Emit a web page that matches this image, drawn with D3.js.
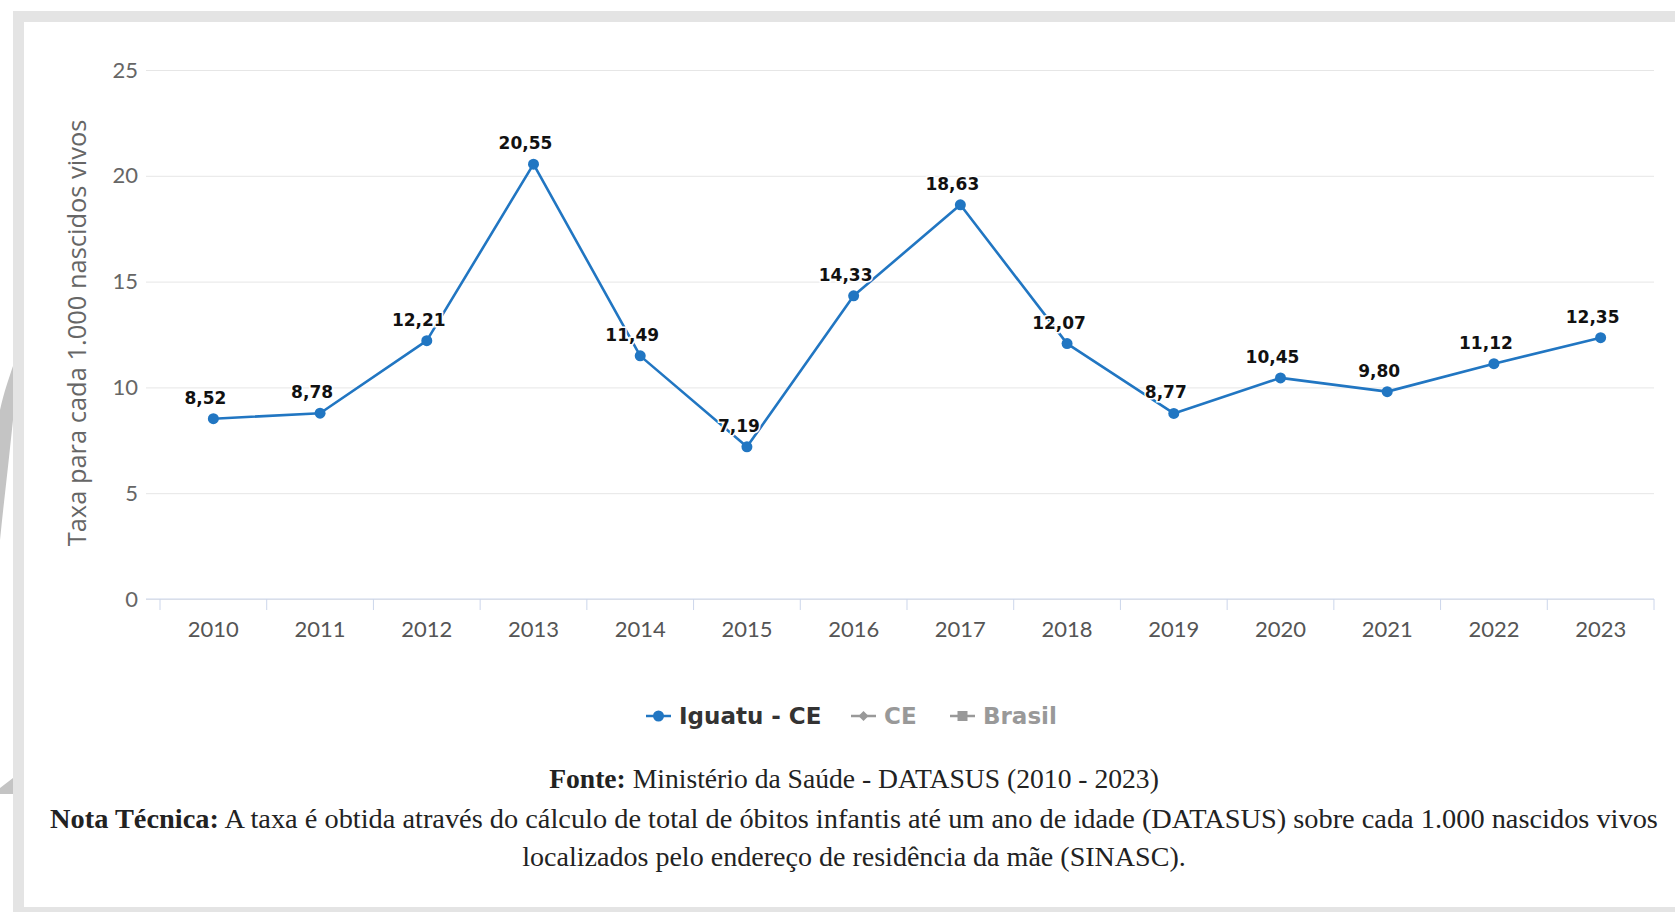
<!DOCTYPE html>
<html>
<head>
<meta charset="utf-8">
<script src="https://cdn.jsdelivr.net/npm/d3@7"></script>
<style>
  html, body { margin: 0; padding: 0; background: #ffffff; }
  svg { display: block; }
</style>
</head>
<body>
<svg id="chart" width="1675" height="912"></svg>
<script>
// ---- data ----
const years = ["2010","2011","2012","2013","2014","2015","2016","2017","2018","2019","2020","2021","2022","2023"];
const iguatuValues = [8.52, 8.78, 12.21, 20.55, 11.49, 7.19, 14.33, 18.63, 12.07, 8.77, 10.45, 9.80, 11.12, 12.35];
const yTicks = [0, 5, 10, 15, 20, 25];
const seriesNames = ["Iguatu - CE", "CE", "Brasil"];
const yAxisTitle = "Taxa para cada 1.000 nascidos vivos";
const sourceLabel = "Fonte:";
const sourceText = " Ministério da Saúde - DATASUS (2010 - 2023)";
const noteLabel = "Nota Técnica:";
const noteLine1 = " A taxa é obtida através do cálculo de total de óbitos infantis até um ano de idade (DATASUS) sobre cada 1.000 nascidos vivos";
const noteLine2 = "localizados pelo endereço de residência da mãe (SINASC).";

// ---- layout ----
const W = 1675, H = 912;
const plot = { left: 160, right: 1654, top: 70, bottom: 599 };
const blue = "#2176c2";
const svg = d3.select("#chart");

function fitText(sel, target) {
  const fs = +sel.attr("font-size");
  const w = sel.node().getComputedTextLength();
  sel.attr("font-size", fs * target / w);
}

// frame
svg.append("rect").attr("x", 13).attr("y", 11).attr("width", W - 13).attr("height", 11).attr("fill", "#e4e4e4");
svg.append("rect").attr("x", 13).attr("y", 11).attr("width", 11).attr("height", H - 11).attr("fill", "#e4e4e4");
svg.append("rect").attr("x", 13).attr("y", 907).attr("width", W - 13).attr("height", 5).attr("fill", "#e4e4e4");
// left grey artefact shapes
svg.append("path").attr("d", "M0,410 C4,392 9,378 13,366 L13,420 C9,460 4,500 0,540 Z").attr("fill", "#c4c4c4");
svg.append("path").attr("d", "M0,788 L13,778 L13,794 L0,794 Z").attr("fill", "#c4c4c4");

const x = d3.scaleBand().domain(years).range([plot.left, plot.right]).padding(0);
const y = d3.scaleLinear().domain([0, 25]).range([plot.bottom, plot.top]);
const cx = d => x(d) + x.bandwidth() / 2;

// gridlines + y labels
const gy = svg.append("g").attr("transform", `translate(${plot.left},0)`)
  .call(d3.axisLeft(y).tickValues(yTicks).tickSize(14).tickPadding(8).tickFormat(d3.format("d")));
gy.select(".domain").remove();
gy.selectAll(".tick line").attr("stroke", "#e6e6e6").attr("x2", plot.right - plot.left);
gy.selectAll(".tick line").attr("x1", -14);
gy.selectAll(".tick text").attr("fill", "#666").attr("font-family", "Lato, sans-serif").attr("font-size", 22);

// x axis
const gx = svg.append("g").attr("transform", `translate(0,${plot.bottom})`)
  .call(d3.axisBottom(x).tickSize(11).tickPadding(11));
gx.select(".domain").attr("d", `M${plot.left - 14},0H${plot.right}`).attr("stroke", "#ccd6eb");
gx.selectAll(".tick line").attr("stroke", "#ccd6eb").attr("x1", -x.bandwidth() / 2).attr("x2", -x.bandwidth() / 2);
gx.append("line").attr("x1", plot.right).attr("x2", plot.right).attr("y1", 0).attr("y2", 11).attr("stroke", "#ccd6eb");
gx.selectAll(".tick text").attr("fill", "#555").attr("font-family", "Lato, sans-serif").attr("font-size", 22);

// y axis title
const yt = svg.append("text")
  .attr("transform", `translate(86,333) rotate(-90)`)
  .attr("text-anchor", "middle")
  .attr("fill", "#666")
  .attr("font-family", "'Open Sans', sans-serif")
  .attr("font-size", 21)
  .text(yAxisTitle);
fitText(yt, 427);

// line
const line = d3.line().x((d, i) => cx(years[i])).y(d => y(d));
svg.append("path").datum(iguatuValues).attr("d", line)
  .attr("fill", "none").attr("stroke", blue).attr("stroke-width", 2.6).attr("stroke-linejoin", "round");
svg.selectAll("circle.pt").data(iguatuValues).join("circle").attr("class", "pt")
  .attr("cx", (d, i) => cx(years[i])).attr("cy", d => y(d)).attr("r", 5.5).attr("fill", blue);

// data labels
const fmt = v => d3.format(".2f")(v).replace(".", ",");
svg.selectAll("text.lbl").data(iguatuValues).join("text").attr("class", "lbl")
  .attr("x", (d, i) => cx(years[i]) - 8).attr("y", d => y(d) - 15)
  .attr("text-anchor", "middle")
  .attr("font-family", "'DejaVu Sans', sans-serif").attr("font-weight", "bold").attr("font-size", 17)
  .attr("fill", "#111")
  .attr("stroke", "#fff").attr("stroke-width", 3).attr("paint-order", "stroke")
  .text(d => fmt(d));

// legend
const legY = 716;
const legendItems = [
  { name: seriesNames[0], sx: 646, tx: 679, color: blue, text: "#333", shape: "circle" },
  { name: seriesNames[1], sx: 851, tx: 884, color: "#999", text: "#999", shape: "diamond" },
  { name: seriesNames[2], sx: 950, tx: 983, color: "#999", text: "#999", shape: "square" }
];
const lg = svg.append("g");
legendItems.forEach(it => {
  lg.append("line").attr("x1", it.sx).attr("x2", it.sx + 25).attr("y1", legY).attr("y2", legY)
    .attr("stroke", it.color).attr("stroke-width", 2.5);
  const mx = it.sx + 12.5;
  if (it.shape === "circle") lg.append("circle").attr("cx", mx).attr("cy", legY).attr("r", 5.5).attr("fill", it.color);
  else if (it.shape === "diamond") lg.append("path").attr("d", `M${mx},${legY - 5}L${mx + 5},${legY}L${mx},${legY + 5}L${mx - 5},${legY}Z`).attr("fill", it.color);
  else lg.append("rect").attr("x", mx - 5).attr("y", legY - 5).attr("width", 10).attr("height", 10).attr("fill", it.color);
  lg.append("text").attr("x", it.tx).attr("y", legY + 8)
    .attr("font-family", "'DejaVu Sans', sans-serif").attr("font-weight", "bold").attr("font-size", 23)
    .attr("fill", it.text).text(it.name);
});

// footer
const serif = "'Liberation Serif', 'Times New Roman', serif";
const f1 = svg.append("text").attr("x", 854).attr("y", 788).attr("text-anchor", "middle")
  .attr("font-family", serif).attr("font-size", 24).attr("fill", "#222");
f1.append("tspan").attr("font-weight", "bold").text(sourceLabel);
f1.append("tspan").text(sourceText);
fitText(f1, 610);

const f2 = svg.append("text").attr("x", 854).attr("y", 828).attr("text-anchor", "middle")
  .attr("font-family", serif).attr("font-size", 24).attr("fill", "#222");
f2.append("tspan").attr("font-weight", "bold").text(noteLabel);
f2.append("tspan").text(noteLine1);
fitText(f2, 1608);

const f3 = svg.append("text").attr("x", 854).attr("y", 866).attr("text-anchor", "middle")
  .attr("font-family", serif).attr("font-size", 24).attr("fill", "#222")
  .text(noteLine2);
fitText(f3, 664);
</script>
</body>
</html>
